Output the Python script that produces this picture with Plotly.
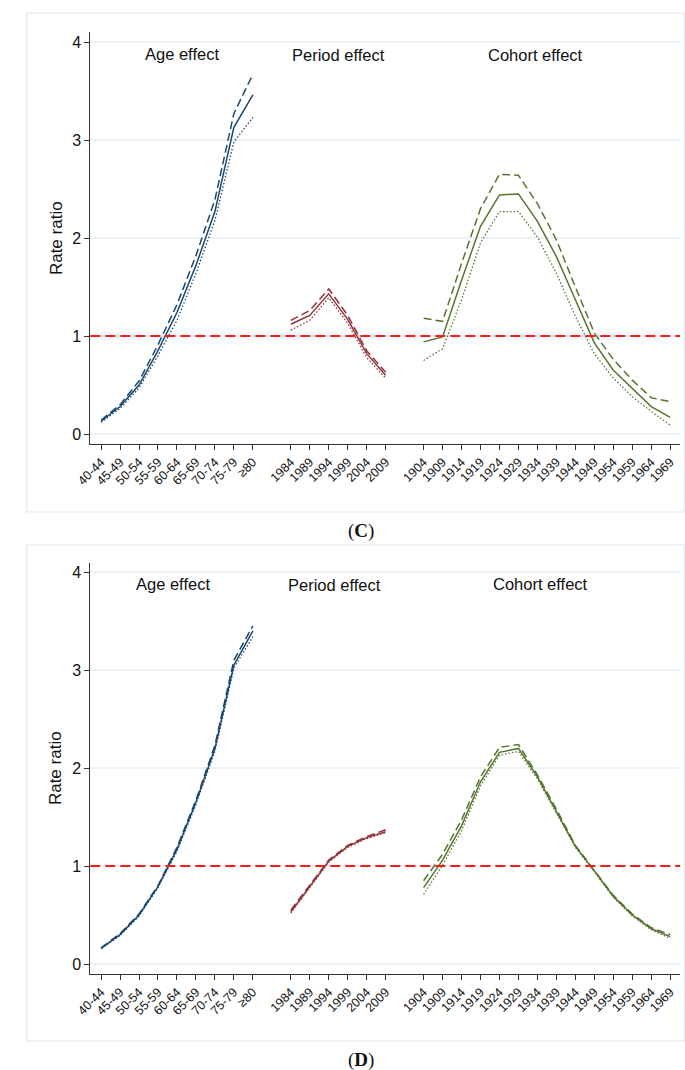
import plotly.graph_objects as go

W, H = 685, 1070

# ---------------- data ----------------
age_labels = ["40-44", "45-49", "50-54", "55-59", "60-64", "65-69", "70-74", "75-79", "≥80"]
period_labels = ["1984", "1989", "1994", "1999", "2004", "2009"]
cohort_labels = ["1904", "1909", "1914", "1919", "1924", "1929", "1934",
                 "1939", "1944", "1949", "1954", "1959", "1964", "1969"]

# Panel C
c_age = [0.13, 0.28, 0.50, 0.85, 1.24, 1.72, 2.27, 3.13, 3.46]
c_age_hi = [0.14, 0.30, 0.54, 0.91, 1.32, 1.82, 2.39, 3.27, 3.67]
c_age_lo = [0.12, 0.26, 0.47, 0.80, 1.16, 1.64, 2.18, 2.98, 3.23]

c_per = [1.12, 1.21, 1.43, 1.17, 0.82, 0.60]
c_per_hi = [1.16, 1.26, 1.48, 1.21, 0.85, 0.63]
c_per_lo = [1.06, 1.16, 1.39, 1.13, 0.78, 0.57]

c_coh = [0.94, 0.99, 1.57, 2.12, 2.44, 2.45, 2.17, 1.81, 1.37, 0.93, 0.65, 0.47, 0.28, 0.17]
c_coh_hi = [1.18, 1.15, 1.74, 2.30, 2.65, 2.64, 2.35, 1.98, 1.50, 1.03, 0.76, 0.55, 0.37, 0.33]
c_coh_lo = [0.75, 0.87, 1.37, 1.95, 2.27, 2.27, 2.01, 1.64, 1.20, 0.82, 0.57, 0.38, 0.23, 0.09]

# Panel D
d_age = [0.16, 0.30, 0.50, 0.79, 1.17, 1.65, 2.20, 3.05, 3.40]
d_age_hi = [0.165, 0.31, 0.51, 0.80, 1.19, 1.67, 2.23, 3.10, 3.45]
d_age_lo = [0.155, 0.29, 0.49, 0.78, 1.15, 1.63, 2.17, 3.02, 3.34]

d_per = [0.53, 0.79, 1.05, 1.20, 1.29, 1.35]
d_per_hi = [0.55, 0.80, 1.06, 1.21, 1.30, 1.37]
d_per_lo = [0.52, 0.78, 1.04, 1.19, 1.28, 1.34]

d_coh = [0.78, 1.06, 1.41, 1.86, 2.16, 2.20, 1.91, 1.56, 1.20, 0.95, 0.69, 0.50, 0.36, 0.28]
d_coh_hi = [0.85, 1.12, 1.47, 1.91, 2.21, 2.24, 1.93, 1.58, 1.21, 0.96, 0.70, 0.51, 0.37, 0.30]
d_coh_lo = [0.71, 1.01, 1.36, 1.82, 2.13, 2.17, 1.89, 1.54, 1.19, 0.94, 0.68, 0.49, 0.35, 0.26]

# ---------------- positions ----------------
age_x = list(range(0, 9))
per_x = list(range(10, 16))
coh_x = list(range(17, 31))
tickvals = age_x + per_x + coh_x
ticktext = age_labels + period_labels + cohort_labels

BLUE = "#1a476f"
MAROON = "#90353b"
GREEN = "#55752f"
GRID = "#eaf2f3"
FRAME = "#dfe8ec"
FONT = "Liberation Sans, Arial, sans-serif"

fig = go.Figure()


def add_group(xs, mid, hi, lo, color, xa, ya):
    fig.add_trace(go.Scatter(x=xs, y=hi, mode="lines", xaxis=xa, yaxis=ya,
                             line=dict(color=color, width=1.5, dash="8px,4px"),
                             showlegend=False, hoverinfo="skip"))
    fig.add_trace(go.Scatter(x=xs, y=lo, mode="lines", xaxis=xa, yaxis=ya,
                             line=dict(color=color, width=1.3, dash="1.5px,2px"),
                             showlegend=False, hoverinfo="skip"))
    fig.add_trace(go.Scatter(x=xs, y=mid, mode="lines", xaxis=xa, yaxis=ya,
                             line=dict(color=color, width=1.5),
                             showlegend=False, hoverinfo="skip"))


add_group(age_x, c_age, c_age_hi, c_age_lo, BLUE, "x", "y")
add_group(per_x, c_per, c_per_hi, c_per_lo, MAROON, "x", "y")
add_group(coh_x, c_coh, c_coh_hi, c_coh_lo, GREEN, "x", "y")
add_group(age_x, d_age, d_age_hi, d_age_lo, BLUE, "x2", "y2")
add_group(per_x, d_per, d_per_hi, d_per_lo, MAROON, "x2", "y2")
add_group(coh_x, d_coh, d_coh_hi, d_coh_lo, GREEN, "x2", "y2")

xdom = [77 / W, 680 / W]
xr = [-0.567, 30.52]


def xaxis(anchor):
    return dict(domain=xdom, range=xr, anchor=anchor, tickmode="array",
                tickvals=tickvals, ticktext=ticktext, tickangle=-45,
                tickfont=dict(family=FONT, size=12.5, color="#111"),
                showline=True, linecolor="#333", linewidth=1,
                ticks="outside", ticklen=5, tickcolor="#333",
                showgrid=False, zeroline=False, fixedrange=True)


def yaxis(anchor, dom, rng):
    return dict(domain=dom, range=rng, anchor=anchor, tickmode="array",
                tickvals=[0, 1, 2, 3, 4], ticktext=["0", "1", "2", "3", "4"],
                tickfont=dict(family=FONT, size=16, color="#111"),
                showline=True, linecolor="#333", linewidth=1,
                ticks="outside", ticklen=5, tickcolor="#333",
                showgrid=True, gridcolor=GRID, gridwidth=1.5,
                zeroline=False, fixedrange=True)


fig.update_layout(
    width=W, height=H,
    margin=dict(l=0, r=0, t=0, b=0),
    paper_bgcolor="white", plot_bgcolor="white",
    xaxis=xaxis("y"),
    yaxis=yaxis("x", [1 - 444 / H, 1 - 32 / H], [-0.102, 4.102]),
    xaxis2=xaxis("y2"),
    yaxis2=yaxis("x2", [1 - 974 / H, 1 - 563 / H], [-0.102, 4.092]),
)

shapes = []
# frames
for top, bot in [(13, 512), (545, 1041)]:
    shapes.append(dict(type="rect", xref="paper", yref="paper",
                       x0=12 / W, x1=684.5 / W, y0=1 - bot / H, y1=1 - top / H,
                       line=dict(color=FRAME, width=1.2), layer="below"))
# reference lines at 1
for xr_, yr_ in [("x domain", "y"), ("x2 domain", "y2")]:
    shapes.append(dict(type="line", xref=xr_, yref=yr_, x0=0, x1=1, y0=1, y1=1,
                       line=dict(color="#ff1a1a", width=1.8, dash="10px,5px")))
fig.update_layout(shapes=shapes)

ann = []


def px_ann(text, x, y, size=16.5, family=FONT, angle=0):
    ann.append(dict(text=text, xref="paper", yref="paper", x=x / W, y=1 - y / H,
                    showarrow=False, xanchor="center", yanchor="middle",
                    textangle=angle, font=dict(family=family, size=size, color="#111")))


px_ann("Age effect", 171, 54)
px_ann("Period effect", 331, 55)
px_ann("Cohort effect", 532, 55)
px_ann("Rate ratio", 42, 238, size=17, angle=-90)
px_ann("Age effect", 162, 584)
px_ann("Period effect", 327, 585)
px_ann("Cohort effect", 537, 584)
px_ann("Rate ratio", 42, 768, size=17, angle=-90)
px_ann("(<b>C</b>)", 354, 531, size=19, family="Liberation Serif, Times New Roman, serif")
px_ann("(<b>D</b>)", 354, 1060, size=19, family="Liberation Serif, Times New Roman, serif")
fig.update_layout(annotations=ann)

fig.write_html("out.html")
